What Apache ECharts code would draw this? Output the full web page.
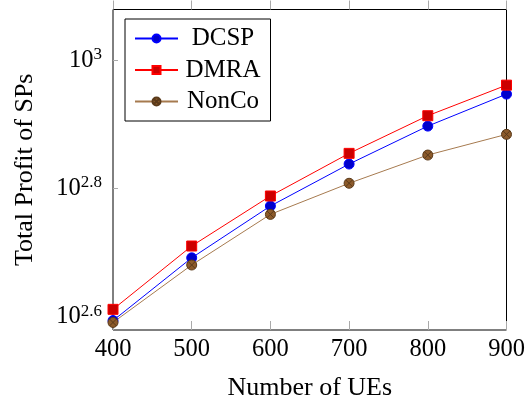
<!DOCTYPE html>
<html>
<head>
<meta charset="utf-8">
<script src="https://cdn.jsdelivr.net/npm/echarts@6/dist/echarts.min.js"></script>
<style>
html, body { margin: 0; padding: 0; background: #fff; }
#main { width: 531px; height: 399px; }
</style>
</head>
<body>
<div id="main"></div>
<script>
// number of UEs
var aUEs = [400, 500, 600, 700, 800, 900];
// total profit of SPs
var aDCSP = [392.6, 491.8, 592.3, 688.6, 789, 885];
var aDMRA = [408.8, 513.1, 614, 715.5, 819, 914];
var aNonCo = [390, 479.3, 574.8, 642.7, 711.2, 766];
// y tick exponents (10^x)
var aYTickExp = [2.6, 2.8, 3];

var sFont = 'Liberation Serif';
// circle with a cross, like pgfplots otimes*
var sOTimes = 'path://M10,0A10,10,0,1,1,10,20A10,10,0,1,1,10,0ZM2.93,2.93L17.07,17.07M17.07,2.93L2.93,17.07';

function Pairs(aY) {
    var aOut = [];
    for (var i = 0; i < aUEs.length; i++) {
        aOut.push([aUEs[i], aY[i]]);
    }
    return aOut;
}

function MakeSeries(sName, aY, sLine, sFill, sBorder, sSymbol, iSize) {
    return {
        name: sName,
        type: 'line',
        data: Pairs(aY),
        symbol: sSymbol,
        symbolSize: iSize,
        showAllSymbol: true,
        lineStyle: {color: sLine, width: 1},
        itemStyle: {color: sFill, borderColor: sBorder, borderWidth: 1},
        emphasis: {disabled: true},
        animation: false,
        z: 3
    };
}

var aTickValues = aYTickExp.map(function (e) { return Math.pow(10, e); });

var jOption = {
    animation: false,
    grid: {
        left: 113, right: 24.5, top: 9.5, bottom: 69,
        outerBoundsMode: 'none',
        containLabel: false,
        show: true, borderColor: '#000', borderWidth: 1, backgroundColor: 'transparent'
    },
    legend: {
        orient: 'vertical',
        left: 125, top: 19,
        padding: [7, 10, 7, 9],
        itemGap: 6.5,
        itemWidth: 43,
        itemHeight: 10,
        borderColor: '#000',
        borderWidth: 1,
        borderRadius: 0,
        backgroundColor: '#fff',
        formatter: '{c|{name}}',
        textStyle: {
            fontFamily: sFont, fontSize: 25, color: '#000',
            rich: {c: {fontFamily: sFont, fontSize: 25, color: '#000', width: 80, align: 'center'}}
        },
        data: ['DCSP', 'DMRA', 'NonCo']
    },
    xAxis: [{
        type: 'value',
        min: 400, max: 900, interval: 100,
        name: 'Number of UEs',
        nameLocation: 'middle',
        nameGap: 45,
        nameTextStyle: {fontFamily: sFont, fontSize: 26, color: '#000'},
        axisLine: {show: false},
        axisTick: {show: true, inside: true, length: 9, lineStyle: {color: '#aaa', width: 1}},
        axisLabel: {fontFamily: sFont, fontSize: 24.5, color: '#000', margin: 7},
        splitLine: {show: false}
    }, {
        type: 'value',
        position: 'top',
        min: 400, max: 900, interval: 100,
        axisLine: {show: false},
        axisTick: {show: true, inside: false, length: 9, lineStyle: {color: '#aaa', width: 1}},
        axisLabel: {show: false},
        splitLine: {show: false}
    }],
    yAxis: {
        type: 'log',
        logBase: 10,
        min: 379.6, max: 1199,
        name: 'Total Profit of SPs',
        nameLocation: 'middle',
        nameGap: 75,
        nameTextStyle: {fontFamily: sFont, fontSize: 26, color: '#000'},
        axisLine: {show: false},
        axisTick: {show: true, inside: true, length: 5, customValues: aTickValues, lineStyle: {color: '#aaa', width: 1}},
        axisLabel: {
            customValues: aTickValues,
            margin: 11,
            fontFamily: sFont, fontSize: 24.5, color: '#000',
            formatter: function (v) {
                var e = Math.round(Math.log10(v) * 10) / 10;
                return '10{sup|' + e + '}';
            },
            rich: {
                sup: {fontFamily: sFont, fontSize: 17, color: '#000', verticalAlign: 'top', padding: [0, 0, 11, 0]}
            }
        },
        splitLine: {show: false}
    },
    series: [
        MakeSeries('DCSP', aDCSP, '#0000FF', '#0000CC', '#0000FF', 'circle', 10),
        MakeSeries('DMRA', aDMRA, '#FF0000', '#CC0000', '#FF0000', 'rect', 10),
        MakeSeries('NonCo', aNonCo, '#A67A4F', '#8C5A2A', '#5A3A1A', sOTimes, 10)
    ]
};

var myChart = echarts.init(document.getElementById('main'), null, {renderer: 'canvas'});
myChart.setOption(jOption);
</script>
</body>
</html>
